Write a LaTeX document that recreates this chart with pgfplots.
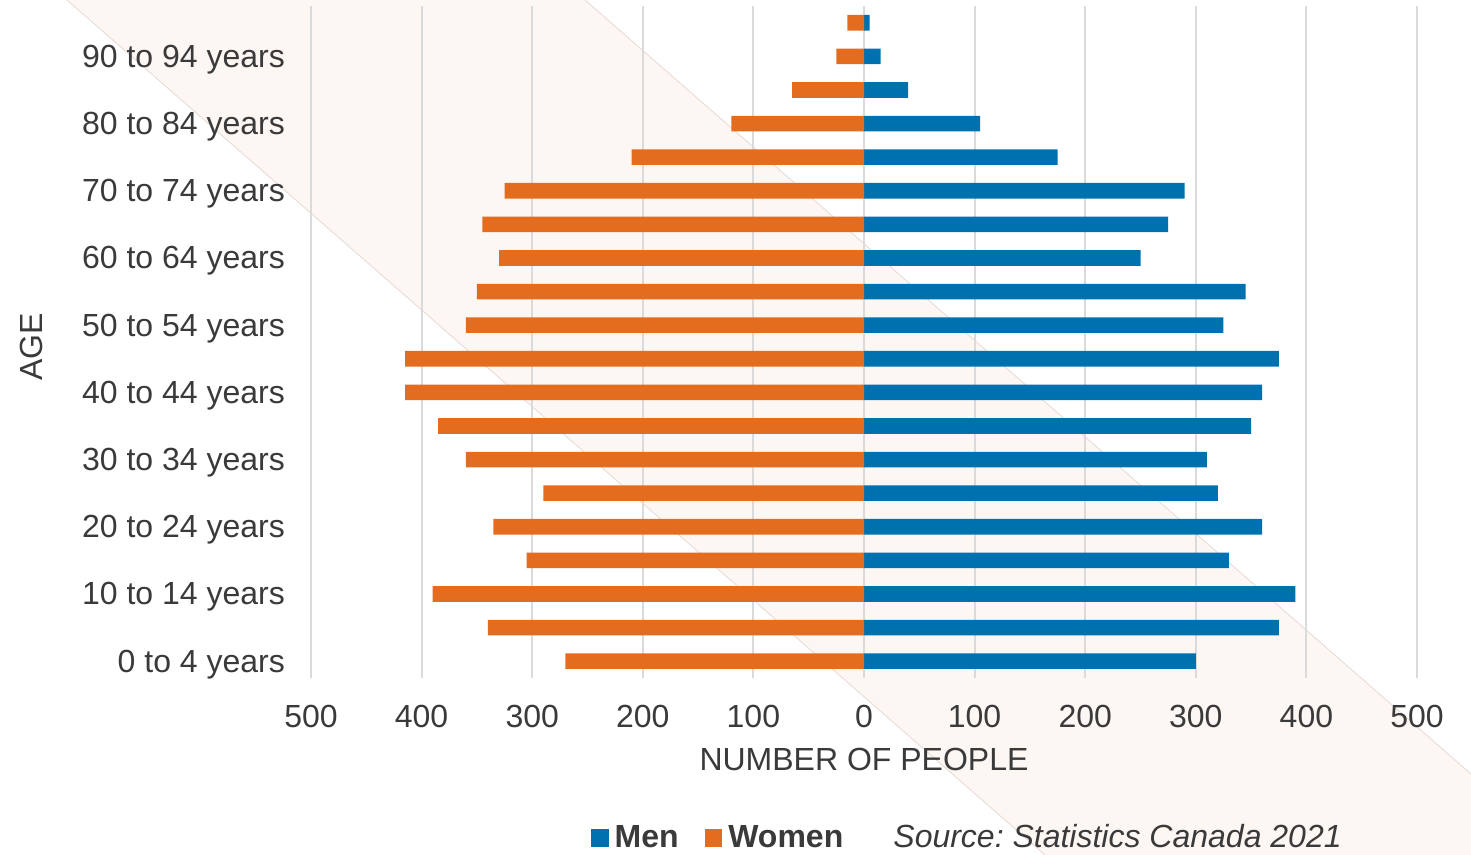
\documentclass[border=0pt]{standalone}
\usepackage{pgfplots}
\pgfplotsset{compat=1.18}
\usepackage{fontspec}
\setmainfont{Liberation Sans}
\definecolor{menblue}{RGB}{0,113,175}
\definecolor{womenorange}{RGB}{227,108,30}
\definecolor{txt}{RGB}{58,58,58}
\definecolor{gridc}{RGB}{218,218,218}
\definecolor{band}{RGB}{253,247,244}
\definecolor{bandedge}{RGB}{232,216,210}
\begin{document}
\frenchspacing
\begin{tikzpicture}
\path[use as bounding box] (0,0) rectangle (735.5pt,427.5pt);
\begin{scope}[x=0.5pt,y=-0.5pt,shift={(0pt,427.5pt)}]
\fill[band] (67,0) -- (585,0) -- (1471,774) -- (1471,855) -- (1045,855) -- cycle;
\draw[bandedge, line width=0.4pt] (67,0) -- (1045,855);
\draw[bandedge, line width=0.4pt] (585,0) -- (1471,774);
\end{scope}
\begin{axis}[
  at={(155.5pt,88.5pt)}, anchor=south west,
  scale only axis, width=553pt, height=336pt,
  xmin=-500, xmax=500, ymin=-0.5, ymax=19.5,
  xbar, bar width=7.8pt, bar shift=0pt,
  axis line style={draw=none},
  major tick length=0pt,
  xtick={-500,-400,...,500},
  xticklabels={500,400,300,200,100,0,100,200,300,400,500},
  ytick={0,2,...,18},
  yticklabels={0 to 4 years, 10 to 14 years, 20 to 24 years, 30 to 34 years, 40 to 44 years, 50 to 54 years, 60 to 64 years, 70 to 74 years, 80 to 84 years, 90 to 94 years},
  xmajorgrids, ymajorgrids=false,
  grid style={gridc, line width=1pt},
  tick label style={font=\fontsize{16}{19}\selectfont, text=txt},
  xticklabel style={yshift=-10pt},
  yticklabel style={xshift=-9.5pt, yshift=-1.5pt},
  xlabel={NUMBER OF PEOPLE}, ylabel={AGE},
  label style={font=\fontsize{16}{19}\selectfont, text=txt},
  xlabel style={at={(axis description cs:0.5,-0.122)}, anchor=center},
  ylabel style={at={(axis description cs:-0.2523,0.4926)}, anchor=center},
  legend style={draw=none, fill=none, legend columns=2,
    font=\bfseries\fontsize{16}{19}\selectfont, text=txt,
    at={(0.3700,-0.238)}, anchor=center, inner sep=0pt,
    nodes={inner xsep=3pt, inner ysep=0pt},
    /tikz/every even column/.append style={column sep=10pt}},
  legend image code/.code={\fill[#1] (0pt,-4.4pt) rectangle (8.8pt,4.4pt);},
]
\addplot[fill=menblue, draw=none] coordinates {
(300,0) (375,1) (390,2) (330,3) (360,4) (320,5) (310,6) (350,7) (360,8) (375,9)
(325,10) (345,11) (250,12) (275,13) (290,14) (175,15) (105,16) (40,17) (15,18) (5,19)};
\addplot[fill=womenorange, draw=none] coordinates {
(-270,0) (-340,1) (-390,2) (-305,3) (-335,4) (-290,5) (-360,6) (-385,7) (-415,8) (-415,9)
(-360,10) (-350,11) (-330,12) (-345,13) (-325,14) (-210,15) (-120,16) (-65,17) (-25,18) (-15,19)};
\legend{Men, Women}
\end{axis}
\node[anchor=west, inner sep=0pt, font=\itshape\fontsize{16}{19}\selectfont, text=txt] at (446.5pt,9.5pt) {Source: Statistics Canada 2021};
\end{tikzpicture}
\end{document}
